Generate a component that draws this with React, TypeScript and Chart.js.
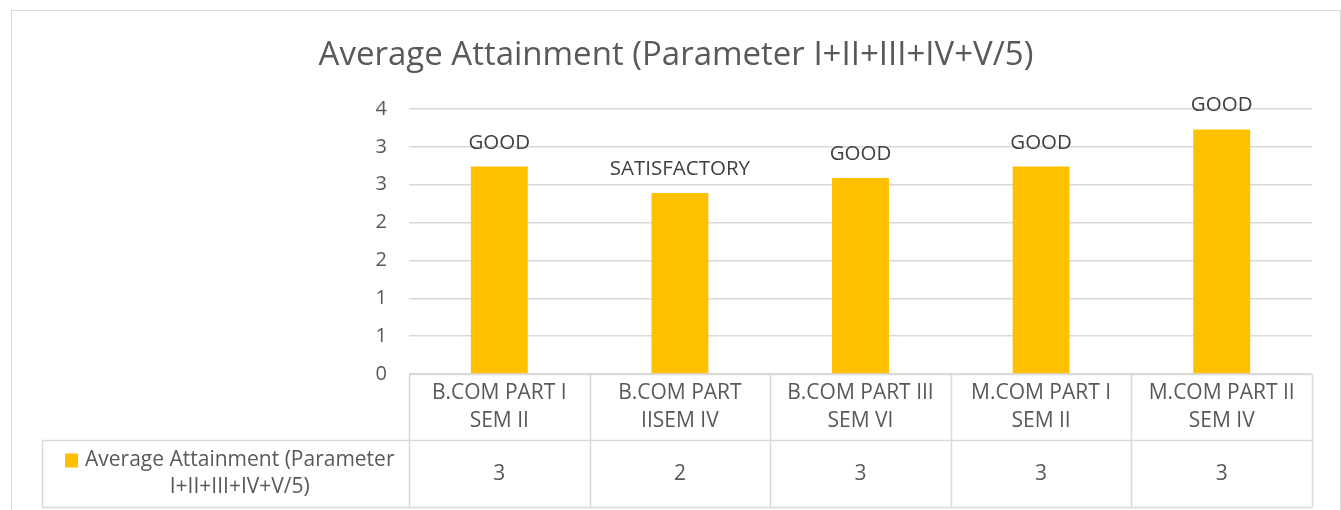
import React, { useEffect, useRef } from "react";
import { Chart, registerables } from "chart.js";

Chart.register(...registerables);

const chartTitle = "Average Attainment (Parameter I+II+III+IV+V/5)";
const seriesName = ["Average Attainment (Parameter", "I+II+III+IV+V/5)"];
const categories: string[][] = [
  ["B.COM PART I", "SEM II"],
  ["B.COM PART", "IISEM IV"],
  ["B.COM PART III", "SEM VI"],
  ["M.COM PART I", "SEM II"],
  ["M.COM PART II", "SEM IV"],
];
const values = [2.74, 2.39, 2.59, 2.74, 3.23];
const dataLabels = ["GOOD", "SATISFACTORY", "GOOD", "GOOD", "GOOD"];
const yTickLabels = ["0", "1", "1", "2", "2", "3", "3", "4"];

const FONT = "'Open Sans', 'Noto Sans', sans-serif";
const BAR = "#FFC000";
const GRID = "#D9D9D9";
const TEXT = "#595959";

const decorPlugin = {
  id: "decor",
  afterDraw(chart: any) {
    const ctx = chart.ctx as CanvasRenderingContext2D;
    const area = chart.chartArea;
    const n = categories.length;
    const colW = (area.right - area.left) / n;
    ctx.save();

    // outer border
    ctx.strokeStyle = GRID;
    ctx.lineWidth = 1;
    ctx.strokeRect(11.5, 10.5, 1329, 520);

    // title
    ctx.fillStyle = TEXT;
    ctx.font = `33px ${FONT}`;
    ctx.textAlign = "center";
    ctx.textBaseline = "middle";
    ctx.fillText(chartTitle, 676, 56);

    // data labels
    const meta = chart.getDatasetMeta(0);
    ctx.fillStyle = "#404040";
    ctx.font = `20.5px ${FONT}`;
    ctx.textBaseline = "alphabetic";
    meta.data.forEach((bar: any, i: number) => {
      ctx.fillText(dataLabels[i], bar.x, bar.y - 18);
    });

    // data table
    const top = Math.round(area.bottom) + 0.5;
    const mid = top + 66;
    const bot = top + 133;
    const legL = 42.5;
    ctx.strokeStyle = GRID;
    ctx.lineWidth = 1.5;
    ctx.beginPath();
    ctx.moveTo(area.left, top);
    ctx.lineTo(area.right, top);
    ctx.moveTo(legL, mid);
    ctx.lineTo(area.right, mid);
    ctx.moveTo(legL, bot);
    ctx.lineTo(area.right, bot);
    ctx.moveTo(legL, mid);
    ctx.lineTo(legL, bot);
    for (let i = 0; i <= n; i++) {
      const x = Math.round(area.left + i * colW) + 0.5;
      ctx.moveTo(x, top);
      ctx.lineTo(x, bot);
    }
    ctx.stroke();

    ctx.fillStyle = TEXT;
    ctx.font = `21px ${FONT}`;
    ctx.textAlign = "center";
    ctx.textBaseline = "middle";
    categories.forEach((lines, i) => {
      const cx = area.left + (i + 0.5) * colW;
      lines.forEach((l, j) => ctx.fillText(l, cx, top + 19 + j * 28));
      ctx.fillText(String(Math.round(values[i])), cx, (mid + bot) / 2);
    });

    // legend cell
    const textW = Math.max(...seriesName.map((s) => ctx.measureText(s).width));
    const sq = 13;
    const gap = 7;
    const blockW = sq + gap + textW;
    const cellCx = (legL + area.left) / 2;
    const bx = cellCx - blockW / 2 + 4;
    const tcx = bx + sq + gap + textW / 2;
    ctx.fillStyle = BAR;
    ctx.fillRect(bx, mid + 13, sq, sq + 1);
    ctx.fillStyle = TEXT;
    seriesName.forEach((s, j) => ctx.fillText(s, tcx, mid + 20 + j * 27));

    ctx.restore();
  },
};

export default function App() {
  const ref = useRef<HTMLCanvasElement>(null);
  useEffect(() => {
    if (!ref.current) return;
    const chart = new Chart(ref.current, {
      type: "bar",
      data: {
        labels: categories.map((c) => c.join(" ")),
        datasets: [
          {
            label: seriesName.join(" "),
            data: values,
            backgroundColor: BAR,
            barPercentage: 0.315,
            categoryPercentage: 1,
          },
        ],
      },
      options: {
        animation: false,
        responsive: false,
        maintainAspectRatio: false,
        layout: { padding: { left: 349, right: 29, top: 109, bottom: 136 } },
        plugins: {
          legend: { display: false },
          title: { display: false },
          tooltip: { enabled: false },
        },
        scales: {
          x: { display: false },
          y: {
            min: 0,
            max: 3.5,
            afterFit: (s: any) => {
              s.width = 60;
            },
            ticks: {
              stepSize: 0.5,
              padding: 22,
              color: TEXT,
              font: { family: FONT, size: 20 },
              callback: (_v: any, i: number) => yTickLabels[i],
            },
            grid: { color: GRID, lineWidth: 1.5, drawTicks: false },
            border: { display: false },
          },
        },
      },
      plugins: [decorPlugin],
    });
    return () => chart.destroy();
  }, []);
  return (
    <div style={{ position: "absolute", left: 0, top: 0, width: 1341, height: 510, background: "#fff" }}>
      <canvas ref={ref} width={1341} height={510} />
    </div>
  );
}
